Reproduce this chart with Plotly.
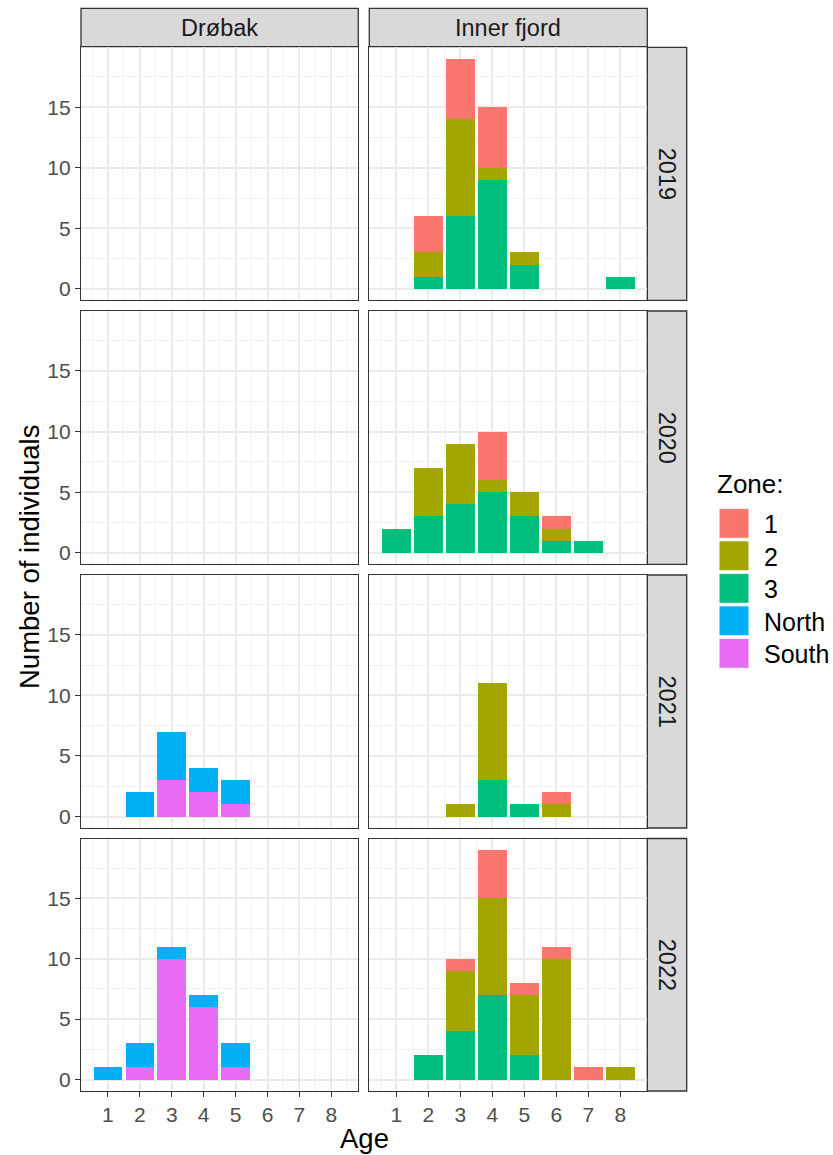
import plotly.graph_objects as go
from plotly.subplots import make_subplots

# ---------------- data ----------------
ages = [1, 2, 3, 4, 5, 6, 7, 8]
locations = ["Drøbak", "Inner fjord"]
years = ["2019", "2020", "2021", "2022"]
zones = ["1", "2", "3", "North", "South"]
zone_colors = ["#F8766D", "#A3A500", "#00BF7D", "#00B0F6", "#E76BF3"]

# Inner fjord, counts per age (1..8) for each zone
inner_2019_z1 = [0, 3, 5, 5, 0, 0, 0, 0]
inner_2019_z2 = [0, 2, 8, 1, 1, 0, 0, 0]
inner_2019_z3 = [0, 1, 6, 9, 2, 0, 0, 1]
inner_2020_z1 = [0, 0, 0, 4, 0, 1, 0, 0]
inner_2020_z2 = [0, 4, 5, 1, 2, 1, 0, 0]
inner_2020_z3 = [2, 3, 4, 5, 3, 1, 1, 0]
inner_2021_z1 = [0, 0, 0, 0, 0, 1, 0, 0]
inner_2021_z2 = [0, 0, 1, 8, 0, 1, 0, 0]
inner_2021_z3 = [0, 0, 0, 3, 1, 0, 0, 0]
inner_2022_z1 = [0, 0, 1, 4, 1, 1, 1, 0]
inner_2022_z2 = [0, 0, 5, 8, 5, 10, 0, 1]
inner_2022_z3 = [0, 2, 4, 7, 2, 0, 0, 0]

# Drøbak, counts per age (1..8) for North / South (no data in 2019, 2020)
drobak_2021_north = [0, 2, 4, 2, 2, 0, 0, 0]
drobak_2021_south = [0, 0, 3, 2, 1, 0, 0, 0]
drobak_2022_north = [1, 2, 1, 1, 2, 0, 0, 0]
drobak_2022_south = [0, 1, 10, 6, 1, 0, 0, 0]

panel_series = {
    (1, 1): {},
    (2, 1): {},
    (3, 1): {"North": drobak_2021_north, "South": drobak_2021_south},
    (4, 1): {"North": drobak_2022_north, "South": drobak_2022_south},
    (1, 2): {"1": inner_2019_z1, "2": inner_2019_z2, "3": inner_2019_z3},
    (2, 2): {"1": inner_2020_z1, "2": inner_2020_z2, "3": inner_2020_z3},
    (3, 2): {"1": inner_2021_z1, "2": inner_2021_z2, "3": inner_2021_z3},
    (4, 2): {"1": inner_2022_z1, "2": inner_2022_z2, "3": inner_2022_z3},
}

# ---------------- layout geometry (pixels) ----------------
W, H = 833, 1155
FONT = "Liberation Sans, Arial, sans-serif"
col_x = [(81.0, 358.3), (369.3, 647.3)]
row_y = [(47.3, 300.3), (311.0, 564.3), (575.0, 828.0), (838.5, 1091.0)]
strip_top = (8.3, 46.7)
strip_right = (647.3, 686.7)
TICK_SIZE = 21
STRIP_SIZE = 23.5
TITLE_SIZE = 27.5


def px_x(v):
    return v / W


def px_y(v):
    return 1 - v / H


fig = make_subplots(rows=4, cols=2)

stack_order = ["South", "North", "3", "2", "1"]  # bottom to top
for (r, c), series in panel_series.items():
    if not series:
        # empty panel: keep the axes drawn
        fig.add_trace(go.Bar(x=[], y=[], showlegend=False, hoverinfo="skip"),
                      row=r, col=c)
        continue
    for z in stack_order:
        if z not in series:
            continue
        col = zone_colors[zones.index(z)]
        fig.add_trace(
            go.Bar(
                x=ages, y=series[z], name=z, width=0.9,
                marker=dict(color=col, line=dict(width=0)),
                showlegend=False,
            ),
            row=r, col=c,
        )

fig.update_layout(
    barmode="stack",
    width=W, height=H,
    margin=dict(l=0, r=0, t=0, b=0),
    paper_bgcolor="white",
    plot_bgcolor="white",
    showlegend=False,
    font=dict(family=FONT, color="#4D4D4D", size=TICK_SIZE),
)

for r in range(1, 5):
    for c in range(1, 3):
        x0, x1 = col_x[c - 1]
        y0, y1 = row_y[r - 1]
        fig.update_xaxes(
            domain=[px_x(x0), px_x(x1)],
            range=[0.155, 8.845], tick0=1, dtick=1,
            showgrid=True, gridcolor="#EBEBEB", gridwidth=1.6,
            minor=dict(dtick=0.5, tick0=0.5, showgrid=True,
                       gridcolor="#F2F2F2", gridwidth=0.9),
            showline=True, linecolor="#333333", linewidth=1.3, mirror=True,
            zeroline=False,
            showticklabels=(r == 4),
            ticks="outside" if r == 4 else "",
            ticklen=5, tickwidth=1.3, tickcolor="#333333",
            tickfont=dict(size=TICK_SIZE, color="#4D4D4D", family=FONT),
            fixedrange=True,
            row=r, col=c,
        )
        fig.update_yaxes(
            domain=[px_y(y1), px_y(y0)],
            range=[-0.95, 19.95], tick0=0, dtick=5,
            showgrid=True, gridcolor="#EBEBEB", gridwidth=1.6,
            minor=dict(dtick=2.5, tick0=0, showgrid=True,
                       gridcolor="#F2F2F2", gridwidth=0.9),
            showline=True, linecolor="#333333", linewidth=1.3, mirror=True,
            zeroline=False,
            showticklabels=(c == 1),
            ticks="outside" if c == 1 else "",
            ticklen=5, tickwidth=1.3, tickcolor="#333333",
            tickfont=dict(size=TICK_SIZE, color="#4D4D4D", family=FONT),
            fixedrange=True,
            row=r, col=c,
        )

shapes = []
annotations = []

# top strips
for i, loc in enumerate(locations):
    x0, x1 = col_x[i]
    shapes.append(dict(type="rect", xref="paper", yref="paper",
                       x0=px_x(x0), x1=px_x(x1),
                       y0=px_y(strip_top[1]), y1=px_y(strip_top[0]),
                       fillcolor="#D9D9D9", line=dict(color="#333333", width=1.3),
                       layer="below"))
    annotations.append(dict(text=loc, xref="paper", yref="paper",
                            x=px_x((x0 + x1) / 2), y=px_y((strip_top[0] + strip_top[1]) / 2),
                            showarrow=False, xanchor="center", yanchor="middle",
                            font=dict(size=STRIP_SIZE, color="#1A1A1A", family=FONT)))

# right strips
for i, yr in enumerate(years):
    y0, y1 = row_y[i]
    shapes.append(dict(type="rect", xref="paper", yref="paper",
                       x0=px_x(strip_right[0]), x1=px_x(strip_right[1]),
                       y0=px_y(y1), y1=px_y(y0),
                       fillcolor="#D9D9D9", line=dict(color="#333333", width=1.3),
                       layer="below"))
    annotations.append(dict(text=yr, xref="paper", yref="paper",
                            x=px_x((strip_right[0] + strip_right[1]) / 2),
                            y=px_y((y0 + y1) / 2), textangle=90,
                            showarrow=False, xanchor="center", yanchor="middle",
                            font=dict(size=STRIP_SIZE, color="#1A1A1A", family=FONT)))

# axis titles
annotations.append(dict(text="Age", xref="paper", yref="paper",
                        x=px_x(364), y=px_y(1138), showarrow=False,
                        xanchor="center", yanchor="middle",
                        font=dict(size=TITLE_SIZE, color="black", family=FONT)))
annotations.append(dict(text="Number of individuals", xref="paper", yref="paper",
                        x=px_x(29), y=px_y(557), textangle=-90, showarrow=False,
                        xanchor="center", yanchor="middle",
                        font=dict(size=TITLE_SIZE, color="black", family=FONT)))

# legend (manual, ggplot style)
annotations.append(dict(text="Zone:", xref="paper", yref="paper",
                        x=px_x(715), y=px_y(484), showarrow=False,
                        xanchor="left", yanchor="middle",
                        font=dict(size=26, color="black", family=FONT)))
key_top0, key_step, key_size = 508.3, 32.5, 30
for i, (z, colr) in enumerate(zip(zones, zone_colors)):
    t = key_top0 + i * key_step
    shapes.append(dict(type="rect", xref="paper", yref="paper",
                       x0=px_x(719), x1=px_x(719 + key_size),
                       y0=px_y(t + key_size), y1=px_y(t),
                       fillcolor=colr, line=dict(color="white", width=1)))
    annotations.append(dict(text=z, xref="paper", yref="paper",
                            x=px_x(762), y=px_y(t + key_size / 2 + 1), showarrow=False,
                            xanchor="left", yanchor="middle",
                            font=dict(size=25, color="black", family=FONT)))

fig.update_layout(shapes=shapes, annotations=annotations)

fig.write_html(
    "out.html",
    config={"displayModeBar": False},
    post_script="document.body.style.margin='0';document.body.style.overflow='hidden';",
)
